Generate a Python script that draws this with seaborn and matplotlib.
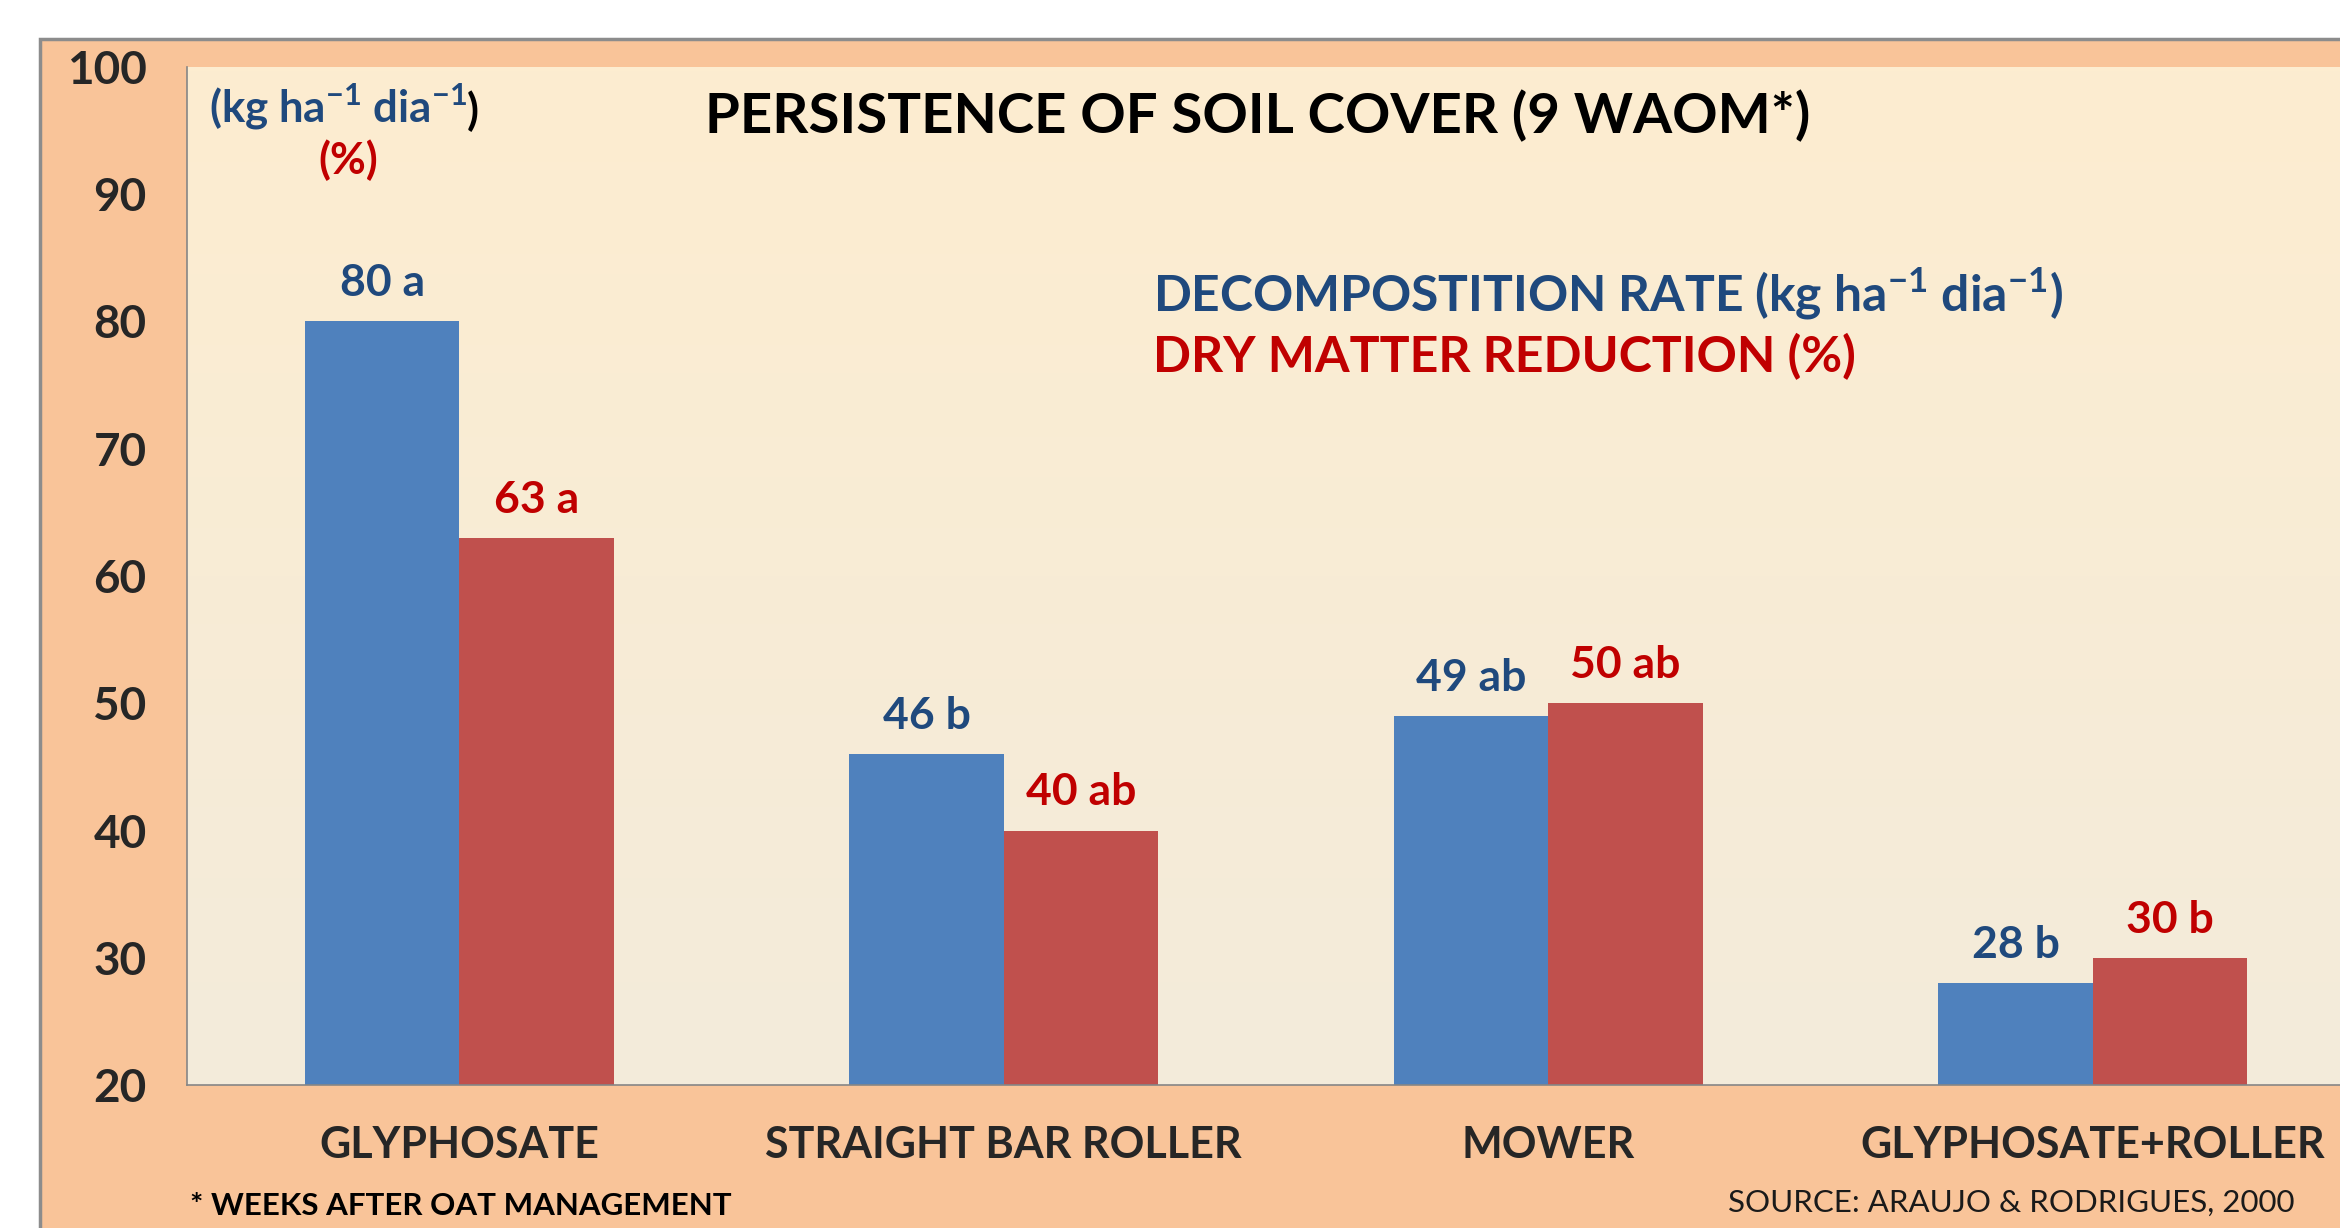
import numpy as np
import pandas as pd
import matplotlib
matplotlib.use("Agg")
import matplotlib.pyplot as plt
from matplotlib.patches import Rectangle
from matplotlib.colors import LinearSegmentedColormap
import seaborn as sns

# Data
treatments = ["GLYPHOSATE", "STRAIGHT BAR ROLLER", "MOWER", "GLYPHOSATE+ROLLER"]
decomposition = [80, 46, 49, 28]
dm_reduction = [63, 40, 50, 30]
decomp_labels = ["80 a", "46 b", "49 ab", "28 b"]
dm_labels = ["63 a", "40 ab", "50 ab", "30 b"]
y_ticks = [20, 30, 40, 50, 60, 70, 80, 90, 100]

series_names = ["DECOMPOSTITION RATE", "DRY MATTER REDUCTION"]

df = pd.DataFrame({
    "treatment": treatments * 2,
    "value": decomposition + dm_reduction,
    "series": [series_names[0]] * 4 + [series_names[1]] * 4,
})

sns.set_style("white")
plt.rcParams["font.family"] = ["Lato", "DejaVu Sans"]
plt.rcParams["mathtext.fontset"] = "custom"
plt.rcParams["mathtext.rm"] = "Lato:bold"

BAR_BLUE = "#4F81BD"
BAR_RED = "#C0504D"
TXT_BLUE = "#1F497D"
TXT_RED = "#C00000"
ORANGE = "#F9C499"

fig = plt.figure(figsize=(23.4, 12.28), dpi=100, facecolor="white")
# outer orange panel with grey border
fig.patches.append(Rectangle((40 / 2340, -0.01), 1.0, (1228 - 39) / 1228 + 0.01,
                             transform=fig.transFigure, facecolor=ORANGE,
                             edgecolor="#8C8C8C", linewidth=2.5, zorder=-5))

ax = fig.add_axes([187 / 2340, 143 / 1228, 2178 / 2340, 1018 / 1228])

sns.barplot(data=df, x="treatment", y="value", hue="series",
            palette=[BAR_BLUE, BAR_RED], width=0.567, saturation=1,
            edgecolor="none", legend=False, ax=ax, zorder=2)

# cream gradient background for the plot area
grad = np.linspace(0, 1, 256).reshape(-1, 1)
cmap = LinearSegmentedColormap.from_list("cream", ["#FDEDD0", "#F3EBDB"])
ax.imshow(grad, cmap=cmap, aspect="auto", extent=(-0.5, 3.5, 20, 100),
          zorder=0, origin="upper")

ax.set_xlim(-0.5, 3.5)
ax.set_ylim(20, 100)
ax.set_yticks(y_ticks)
ax.set_yticklabels([str(t) for t in y_ticks], fontsize=33, fontweight="bold")
ax.set_xticks(range(len(treatments)))
ax.set_xticklabels(treatments, fontsize=31, fontweight="bold")
ax.set_xticks([-0.5, 0.5, 1.5, 2.5, 3.5], minor=True)
ax.tick_params(axis="x", which="major", length=0, pad=29)
ax.tick_params(axis="x", which="minor", length=11, width=1.2, color="#868686", direction="out")
ax.tick_params(axis="y", length=11, width=1.2, color="#868686", direction="out", pad=18)
ax.set_xlabel("")
ax.set_ylabel("")
for s in ["top", "right"]:
    ax.spines[s].set_visible(False)
for s in ["left", "bottom"]:
    ax.spines[s].set_color("#868686")
    ax.spines[s].set_linewidth(1.2)
ax.patch.set_alpha(0)

# bar value labels
ax.bar_label(ax.containers[0], labels=decomp_labels, padding=13,
             fontsize=32, fontweight="bold", color=TXT_BLUE)
ax.bar_label(ax.containers[1], labels=dm_labels, padding=13,
             fontsize=32, fontweight="bold", color=TXT_RED)

# title and annotation texts
fig.text(1258 / 2340, 1 - 116 / 1228, "PERSISTENCE OF SOIL COVER (9 WAOM*)",
         ha="center", va="center", fontsize=40.6, fontweight="bold", color="black")

t = fig.text(209 / 2340, 1 - 107 / 1228,
             r"(kg ha$^{\mathregular{-1}}$ dia$^{\mathregular{-1}}$",
             ha="left", va="center", fontsize=31.5, fontweight="bold", color=TXT_BLUE)
fig.add_artist(matplotlib.text.Annotation(
    ")", xy=(1, 0), xycoords=t, ha="left", va="bottom",
    fontsize=31.5, fontweight="bold", color="black"))
fig.text(348 / 2340, 1 - 160 / 1228, "(%)", ha="center", va="center",
         fontsize=31.5, fontweight="bold", color=TXT_RED)

fig.text(1153 / 2340, 1 - 294 / 1228,
         r"DECOMPOSTITION RATE (kg ha$^{\mathregular{-1}}$ dia$^{\mathregular{-1}}$)",
         ha="left", va="center", fontsize=35.8, fontweight="bold", color=TXT_BLUE)
fig.text(1153 / 2340, 1 - 357 / 1228, "DRY MATTER REDUCTION (%)",
         ha="left", va="center", fontsize=36, fontweight="bold", color=TXT_RED)

fig.text(190 / 2340, 1 - 1206 / 1228, "* WEEKS AFTER OAT MANAGEMENT",
         ha="left", va="center", fontsize=22.5, fontweight="bold", color="black")
fig.text(2294 / 2340, 1 - 1203 / 1228, "SOURCE: ARAUJO & RODRIGUES, 2000",
         ha="right", va="center", fontsize=22.5, color="#1A1A1A")

fig.savefig("out.png", dpi=100, facecolor=fig.get_facecolor())
